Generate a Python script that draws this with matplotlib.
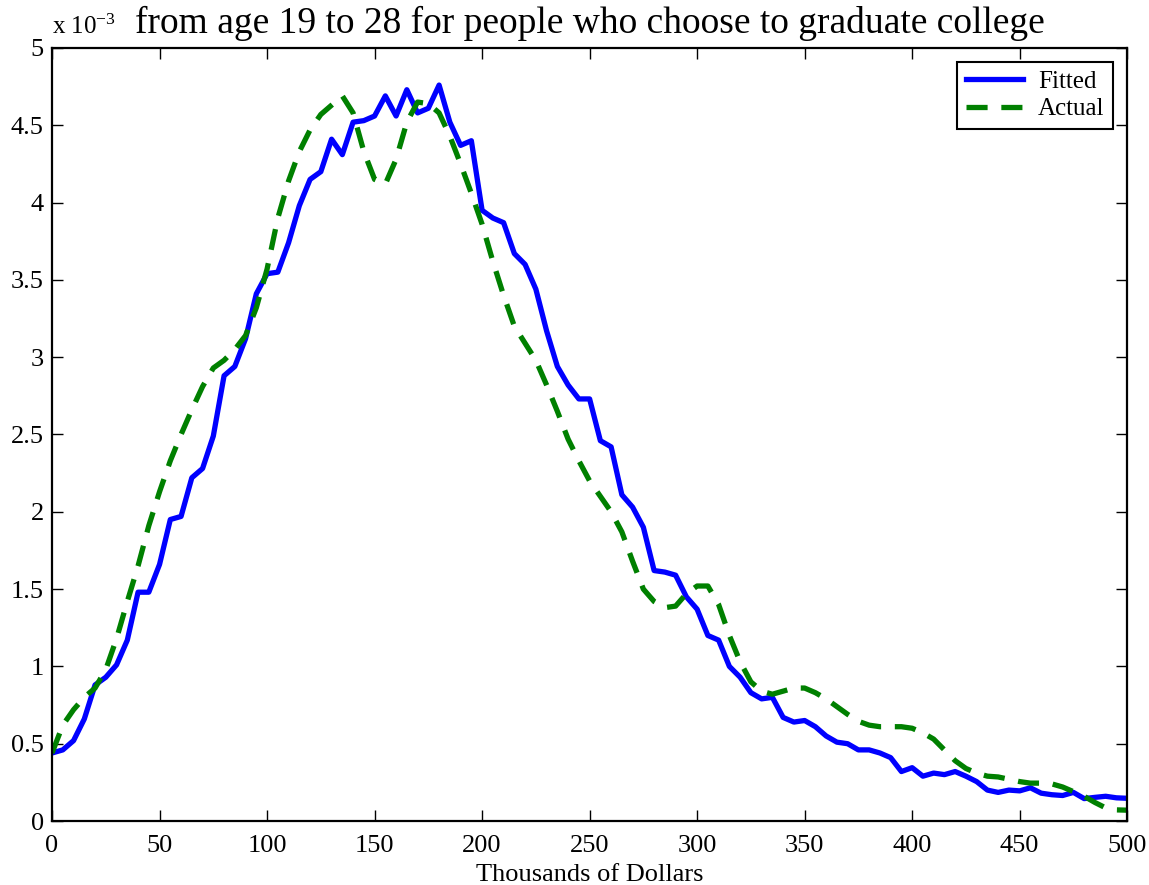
import numpy as np
import matplotlib
matplotlib.use("Agg")
import matplotlib.pyplot as plt

# x axis: thousands of dollars, sampled every 5
income = np.arange(0, 505, 5)

# densities in units of 1e-3
fitted = [0.44, 0.46, 0.52, 0.66, 0.88, 0.93, 1.01, 1.17, 1.48, 1.48,
          1.66, 1.95, 1.97, 2.22, 2.28, 2.49, 2.88, 2.94, 3.12, 3.41,
          3.54, 3.55, 3.74, 3.98, 4.15, 4.20, 4.41, 4.31, 4.52, 4.53,
          4.56, 4.69, 4.56, 4.73, 4.58, 4.61, 4.76, 4.52, 4.37, 4.40,
          3.95, 3.90, 3.87, 3.67, 3.60, 3.44, 3.17, 2.94, 2.82, 2.73,
          2.73, 2.46, 2.42, 2.11, 2.03, 1.90, 1.62, 1.61, 1.59, 1.45,
          1.37, 1.20, 1.17, 1.00, 0.93, 0.83, 0.79, 0.80, 0.67, 0.64,
          0.65, 0.61, 0.55, 0.51, 0.50, 0.46, 0.46, 0.44, 0.41, 0.32,
          0.345, 0.29, 0.31, 0.30, 0.32, 0.29, 0.255, 0.20, 0.185, 0.20,
          0.195, 0.215, 0.18, 0.17, 0.165, 0.185, 0.145, 0.153, 0.16, 0.15,
          0.147]

actual = [0.44, 0.62, 0.72, 0.80, 0.86, 0.98, 1.18, 1.42, 1.65, 1.91,
          2.13, 2.33, 2.50, 2.66, 2.81, 2.93, 2.98, 3.05, 3.14, 3.32,
          3.57, 3.90, 4.14, 4.33, 4.47, 4.57, 4.63, 4.69, 4.58, 4.33,
          4.15, 4.12, 4.28, 4.52, 4.65, 4.64, 4.58, 4.43, 4.25, 4.06,
          3.86, 3.62, 3.40, 3.20, 3.09, 2.98, 2.82, 2.65, 2.47, 2.33,
          2.20, 2.10, 2.00, 1.87, 1.68, 1.50, 1.42, 1.38, 1.39, 1.47,
          1.52, 1.52, 1.40, 1.20, 1.03, 0.90, 0.84, 0.82, 0.84, 0.86,
          0.86, 0.83, 0.79, 0.74, 0.69, 0.645, 0.62, 0.61, 0.61, 0.61,
          0.60, 0.57, 0.53, 0.46, 0.39, 0.34, 0.31, 0.29, 0.285, 0.27,
          0.255, 0.245, 0.245, 0.24, 0.22, 0.19, 0.16, 0.12, 0.085, 0.072,
          0.07]

xticks = [0, 50, 100, 150, 200, 250, 300, 350, 400, 450, 500]
yticks = [0, 0.5, 1, 1.5, 2, 2.5, 3, 3.5, 4, 4.5, 5]

plt.rcParams['font.family'] = ['Liberation Serif', 'DejaVu Serif']
plt.rcParams['mathtext.fontset'] = 'custom'
plt.rcParams['mathtext.rm'] = 'Liberation Serif'
plt.rcParams['mathtext.it'] = 'Liberation Serif:italic'

fig = plt.figure(figsize=(11.49, 8.85), dpi=100)
ax = fig.add_axes([0.0453, 0.0723, 0.9357, 0.8735])

ax.plot(income, fitted, color='#0000ff', linewidth=3.8, label='Fitted')
ax.plot(income, actual, color='#008000', linewidth=3.8, linestyle=(0, (4, 2.6)),
        label='Actual')

ax.set_xlim(0, 500)
ax.set_ylim(0, 5)
ax.set_xticks(xticks)
ax.set_yticks(yticks)
ax.set_yticklabels(['%g' % t for t in yticks])
ax.tick_params(direction='in', length=8, width=1, top=True, right=True,
               labelsize=19, pad=6)
ax.tick_params(axis='x', pad=10)
for s in ax.spines.values():
    s.set_linewidth(1.6)

ax.set_xlabel('Thousands of Dollars', fontsize=19, labelpad=5)
ax.set_title('from age 19 to 28 for people who choose to graduate college',
             fontsize=27, pad=11)
ax.text(0.0, 1.012, r'x 10$^{-3}$', transform=ax.transAxes, fontsize=18,
        ha='left', va='bottom')

leg = ax.legend(loc='upper right', fontsize=18, frameon=True, fancybox=False,
                edgecolor='black', framealpha=1, handlelength=2.3,
                borderpad=0.35, labelspacing=0.2, handletextpad=0.6,
                borderaxespad=0.55)
leg.get_frame().set_linewidth(1.5)

fig.savefig('out.png', dpi=100)
